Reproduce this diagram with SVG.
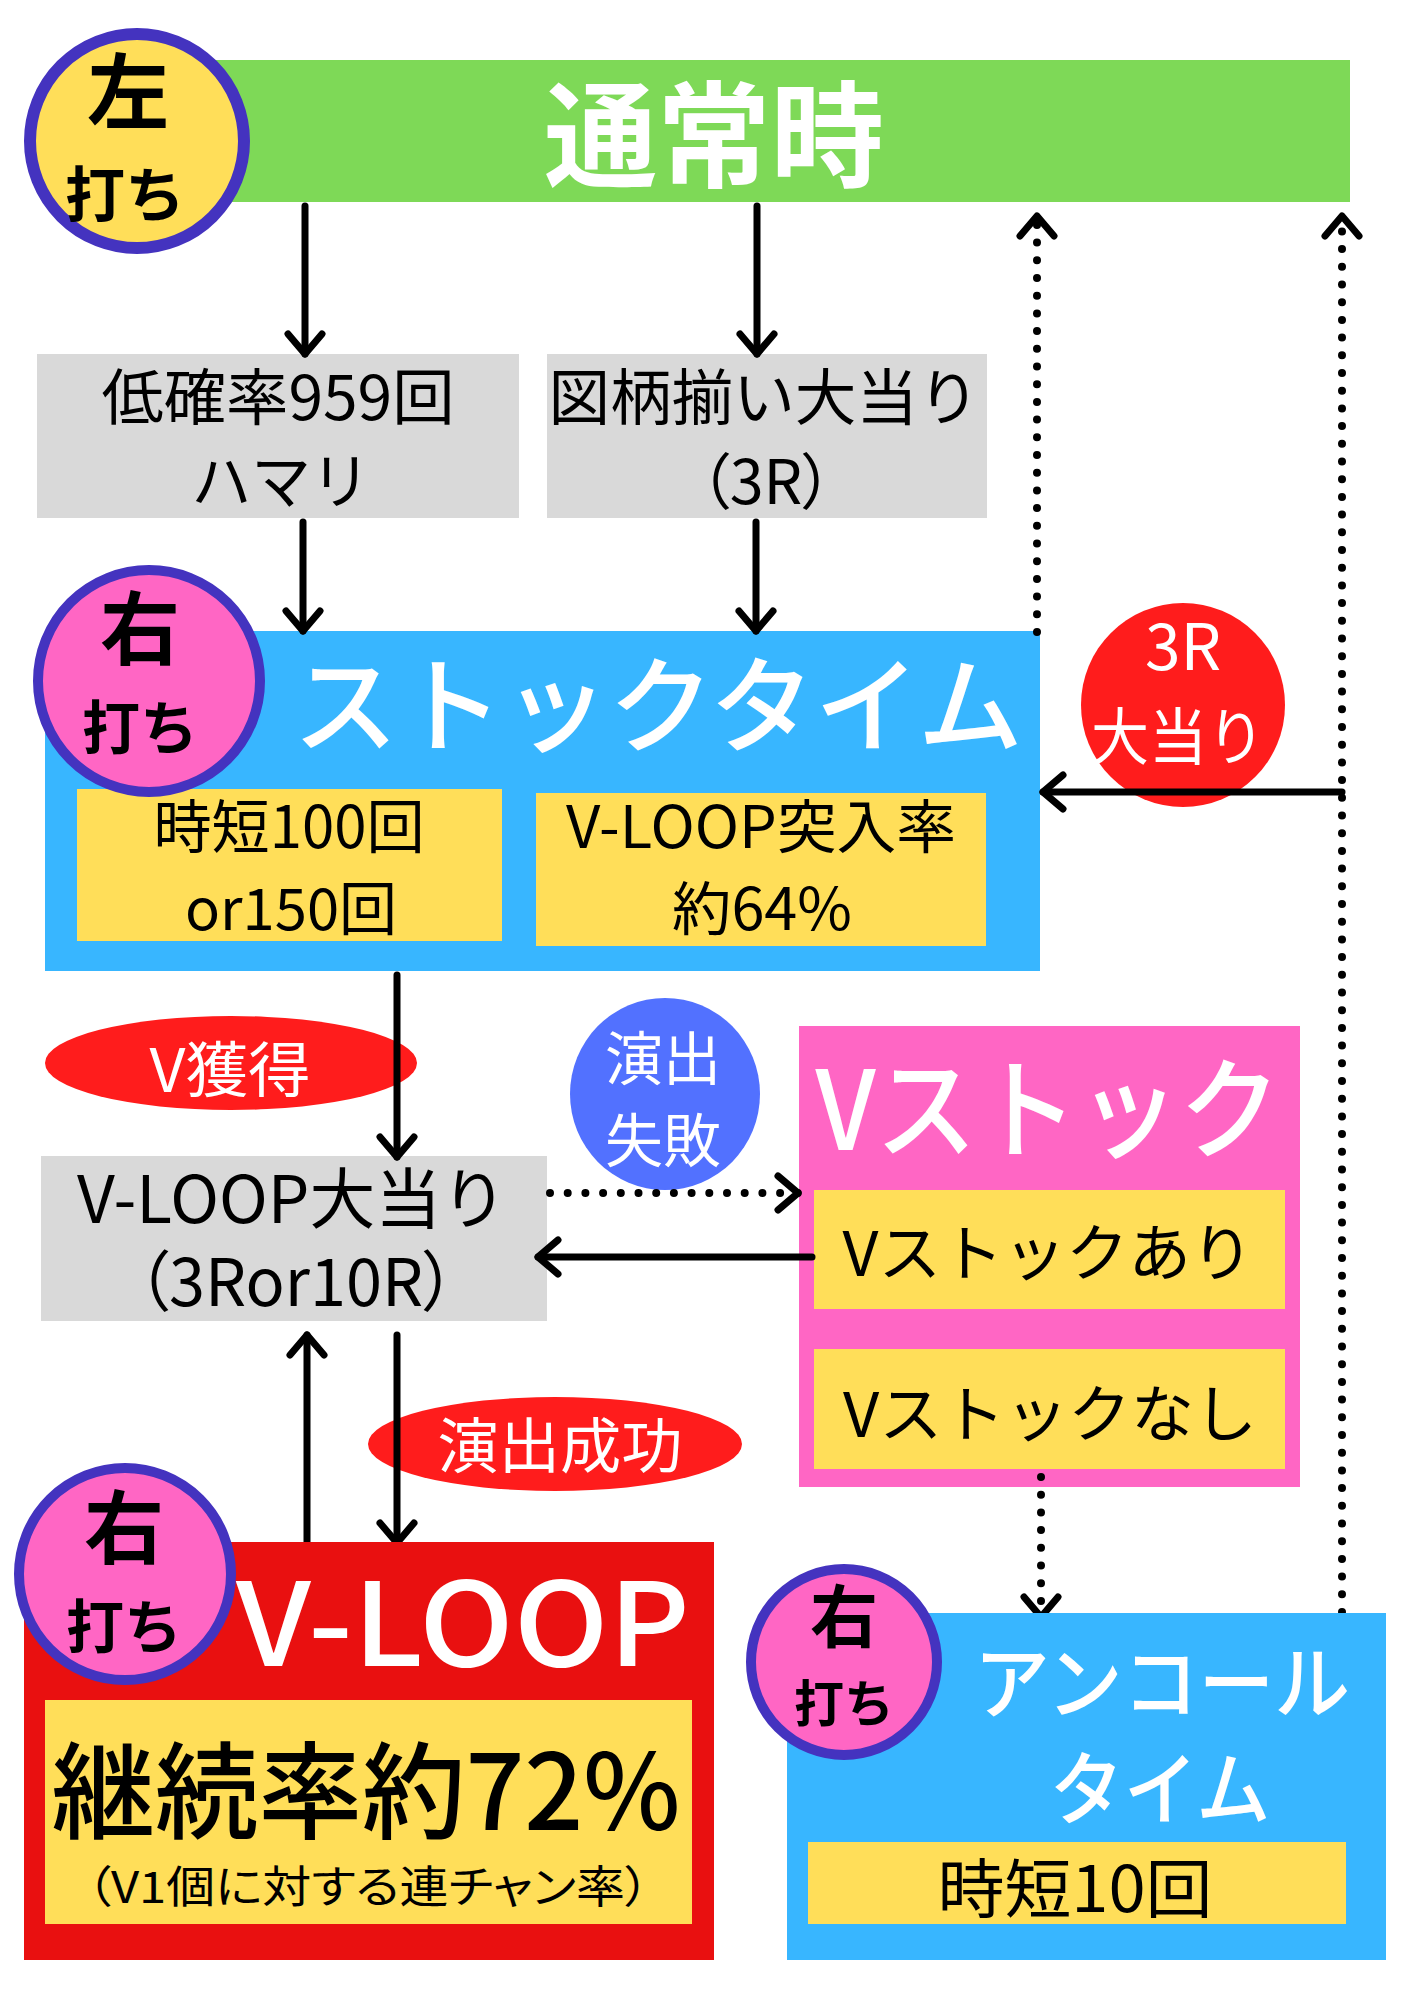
<svg xmlns="http://www.w3.org/2000/svg" width="1414" height="2000" viewBox="0 0 1414 2000">
<defs>
<style>
text{font-family:"Noto Sans CJK JP","Noto Sans",sans-serif;text-anchor:middle}
.w{fill:#fff}
.k{fill:#000}
.b{font-weight:700}
.p{font-feature-settings:"palt"}
.line{stroke:#000;stroke-width:7;fill:none;stroke-linecap:round}
.dot{stroke:#000;stroke-width:8;fill:none;stroke-linecap:round;stroke-dasharray:0 17.7}
.pink{fill:#FF66C4;stroke:#4433BF;stroke-width:10}
</style>
<marker id="ah" markerUnits="userSpaceOnUse" viewBox="-30 -30 60 60" markerWidth="60" markerHeight="60" refX="0" refY="0" orient="auto" overflow="visible">
<path d="M-20,-17 L0,0 L-20,17" fill="none" stroke="#000" stroke-width="7" stroke-linecap="round" stroke-linejoin="round" stroke-dasharray="none"/>
</marker>
</defs>
<rect width="1414" height="2000" fill="#fff"/>

<g id="normal">
<rect x="200" y="60" width="1150" height="142" fill="#7ED957"/>
<text x="714" y="178" class="w b" font-size="115" textLength="340" lengthAdjust="spacingAndGlyphs">通常時</text>
</g>
<g id="left-badge">
<circle cx="137" cy="141" r="107" fill="#FFDE59" stroke="#4433BF" stroke-width="12"/>
<text x="128" y="122" class="k b" font-size="82">左</text>
<text x="125" y="217" class="k b" font-size="60">打ち</text>
</g>

<g id="hamari">
<rect x="37" y="354" width="482" height="164" fill="#D9D9D9"/>
<text x="278" y="420" class="k" font-size="61" textLength="353" lengthAdjust="spacingAndGlyphs">低確率959回</text>
<text x="281" y="504" class="k" font-size="61" textLength="179" lengthAdjust="spacingAndGlyphs">ハマリ</text>
</g>
<g id="zugara">
<rect x="547" y="354" width="440" height="164" fill="#D9D9D9"/>
<text x="764" y="420" class="k" font-size="61" textLength="431" lengthAdjust="spacingAndGlyphs">図柄揃い大当り</text>
<text x="766" y="504" class="k p" font-size="61">（3R）</text>
</g>

<g id="stocktime">
<rect x="45" y="631" width="995" height="340" fill="#38B6FF"/>
<text x="658" y="744" class="w" font-weight="500" font-size="105" textLength="730" lengthAdjust="spacingAndGlyphs">ストックタイム</text>
<rect x="77" y="789" width="425" height="152" fill="#FFDE59"/>
<text x="289" y="848" class="k" font-size="58" textLength="271" lengthAdjust="spacingAndGlyphs">時短100回</text>
<text x="291" y="930" class="k" font-size="58" textLength="212" lengthAdjust="spacingAndGlyphs">or150回</text>
<rect x="536" y="793" width="450" height="153" fill="#FFDE59"/>
<text x="761" y="848" class="k" font-size="58" textLength="390" lengthAdjust="spacingAndGlyphs">V-LOOP突入率</text>
<text x="762" y="930" class="k" font-size="58" textLength="180" lengthAdjust="spacingAndGlyphs">約64%</text>
</g>
<g id="right-badge-1">
<circle cx="149" cy="681" r="111" class="pink"/>
<text x="140" y="658" class="k b" font-size="80">右</text>
<text x="140" y="749" class="k b" font-size="58">打ち</text>
</g>

<g id="bonus3r">
<circle cx="1183" cy="705" r="102" fill="#FF1C1C"/>
<text x="1183" y="670" class="w" font-size="64">3R</text>
<text x="1178" y="760" class="w" font-size="62" textLength="174" lengthAdjust="spacingAndGlyphs">大当り</text>
</g>

<g id="vget">
<ellipse cx="231" cy="1063" rx="186" ry="47" fill="#FF1C1C"/>
<text x="230" y="1092" class="w" font-size="60" textLength="161" lengthAdjust="spacingAndGlyphs">V獲得</text>
</g>

<g id="fail">
<ellipse cx="665" cy="1094" rx="95" ry="96" fill="#5271FF"/>
<text x="663" y="1080" class="w" font-size="58">演出</text>
<text x="663" y="1162" class="w" font-size="58">失敗</text>
</g>

<g id="vstock">
<rect x="799" y="1026" width="501" height="461" fill="#FF66C4"/>
<text x="1048" y="1150" class="w" font-weight="500" font-size="110" textLength="465" lengthAdjust="spacingAndGlyphs">Vストック</text>
<rect x="814" y="1190" width="471" height="119" fill="#FFDE59"/>
<text x="1048" y="1276" class="k" font-size="62" textLength="411" lengthAdjust="spacingAndGlyphs">Vストックあり</text>
<rect x="814" y="1349" width="471" height="120" fill="#FFDE59"/>
<text x="1050" y="1437" class="k" font-size="62" textLength="414" lengthAdjust="spacingAndGlyphs">Vストックなし</text>
</g>

<g id="vloop-bonus">
<rect x="41" y="1156" width="506" height="165" fill="#D9D9D9"/>
<text x="292" y="1223" class="k" font-size="66" textLength="430" lengthAdjust="spacingAndGlyphs">V-LOOP大当り</text>
<text x="296" y="1306" class="k p" font-size="66" textLength="319" lengthAdjust="spacingAndGlyphs">（3Ror10R）</text>
</g>

<g id="success">
<ellipse cx="555" cy="1444" rx="187" ry="47" fill="#FF1C1C"/>
<text x="560" y="1468" class="w" font-size="60" textLength="245" lengthAdjust="spacingAndGlyphs">演出成功</text>
</g>

<g id="connectors">
<line x1="305" y1="206" x2="305" y2="354" class="line" marker-end="url(#ah)"/>
<line x1="757" y1="206" x2="757" y2="354" class="line" marker-end="url(#ah)"/>
<line x1="303" y1="522" x2="303" y2="631" class="line" marker-end="url(#ah)"/>
<line x1="756" y1="522" x2="756" y2="631" class="line" marker-end="url(#ah)"/>
<line x1="1037" y1="632" x2="1037" y2="216" class="dot" marker-end="url(#ah)"/>
<line x1="1342" y1="1612" x2="1342" y2="216" class="dot" marker-end="url(#ah)"/>
<line x1="1342" y1="792" x2="1043" y2="792" class="line" stroke-width="8" marker-end="url(#ah)"/>
<line x1="397" y1="975" x2="397" y2="1157" class="line" marker-end="url(#ah)"/>
<line x1="550" y1="1193" x2="798" y2="1193" class="dot" marker-end="url(#ah)"/>
<line x1="812" y1="1257" x2="538" y2="1257" class="line" stroke-width="8" marker-end="url(#ah)"/>
<line x1="307" y1="1543" x2="307" y2="1335" class="line" marker-end="url(#ah)"/>
<line x1="397" y1="1335" x2="397" y2="1543" class="line" marker-end="url(#ah)"/>
<line x1="1041" y1="1477" x2="1041" y2="1617" class="dot" marker-end="url(#ah)"/>
</g>

<g id="vloop">
<rect x="24" y="1542" width="690" height="418" fill="#E91010"/>
<text x="463" y="1666" class="w" font-weight="500" font-size="116" textLength="454" lengthAdjust="spacingAndGlyphs">V-LOOP</text>
<rect x="45" y="1700" width="647" height="224" fill="#FFDE59"/>
<text x="366" y="1830" class="k" font-weight="500" font-size="105" textLength="629" lengthAdjust="spacingAndGlyphs">継続率約72%</text>
<text x="368" y="1903" class="k p" font-size="44" textLength="563" lengthAdjust="spacingAndGlyphs">（V1個に対する連チャン率）</text>
</g>
<g id="right-badge-2">
<circle cx="125" cy="1574" r="106" class="pink"/>
<text x="124" y="1557" class="k b" font-size="80">右</text>
<text x="124" y="1648" class="k b" font-size="58">打ち</text>
</g>

<g id="encore">
<rect x="787" y="1613" width="599" height="347" fill="#38B6FF"/>
<text x="1162" y="1712" class="w" font-weight="500" font-size="80" textLength="376" lengthAdjust="spacingAndGlyphs">アンコール</text>
<text x="1160" y="1818" class="w" font-weight="500" font-size="80" textLength="221" lengthAdjust="spacingAndGlyphs">タイム</text>
<rect x="808" y="1842" width="538" height="82" fill="#FFDE59"/>
<text x="1075" y="1912" class="k" font-size="64" textLength="275" lengthAdjust="spacingAndGlyphs">時短10回</text>
</g>
<g id="right-badge-3">
<circle cx="844" cy="1662" r="93" class="pink" stroke-width="9"/>
<text x="844" y="1642" class="k b" font-size="68">右</text>
<text x="844" y="1722" class="k b" font-size="50">打ち</text>
</g>
</svg>
